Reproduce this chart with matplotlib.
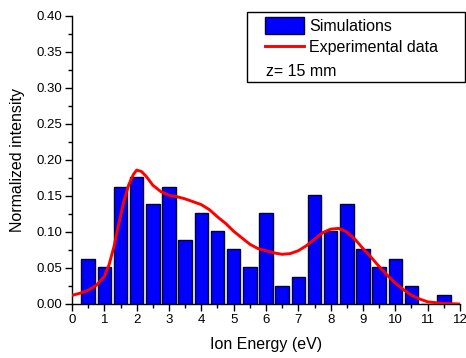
import matplotlib
matplotlib.use("Agg")
import matplotlib.pyplot as plt
from matplotlib.patches import Rectangle
from matplotlib.ticker import MultipleLocator, FormatStrFormatter

plt.rcParams['font.family'] = ['Liberation Sans', 'DejaVu Sans']

# simulated ion energy histogram
sim_energy = [0.5, 1.0, 1.5, 2.0, 2.5, 3.0, 3.5, 4.0, 4.5, 5.0, 5.5, 6.0,
              6.5, 7.0, 7.5, 8.0, 8.5, 9.0, 9.5, 10.0, 10.5, 11.0, 11.5]
sim_intensity = [0.063, 0.051, 0.163, 0.177, 0.139, 0.163, 0.089, 0.127,
                 0.101, 0.076, 0.051, 0.127, 0.025, 0.038, 0.152, 0.101,
                 0.139, 0.076, 0.051, 0.063, 0.025, 0.0, 0.013]

# measured curve
exp_energy = [0.0, 0.25, 0.5, 0.75, 1.0, 1.15, 1.3, 1.45, 1.6, 1.75, 1.9,
              2.0, 2.15, 2.3, 2.5, 2.75, 3.0, 3.25, 3.5, 3.75, 4.0, 4.25,
              4.5, 4.75, 5.0, 5.25, 5.5, 5.75, 6.0, 6.25, 6.5, 6.75, 7.0,
              7.25, 7.5, 7.75, 8.0, 8.25, 8.5, 8.75, 9.0, 9.25, 9.5, 9.75,
              10.0, 10.25, 10.5, 10.75, 11.0, 11.5, 12.0]
exp_intensity = [0.012, 0.015, 0.019, 0.026, 0.038, 0.055, 0.080, 0.112,
                 0.142, 0.165, 0.180, 0.186, 0.184, 0.177, 0.165, 0.156,
                 0.151, 0.149, 0.146, 0.142, 0.138, 0.131, 0.121, 0.112,
                 0.101, 0.092, 0.083, 0.077, 0.074, 0.071, 0.069, 0.070,
                 0.074, 0.081, 0.090, 0.099, 0.104, 0.105, 0.100, 0.090,
                 0.077, 0.065, 0.052, 0.040, 0.029, 0.020, 0.012, 0.007,
                 0.003, 0.0007, 0.0]

fig = plt.figure(figsize=(4.66, 3.58), dpi=100)
W, H = 466, 358
ax = fig.add_axes([72 / W, 1 - 304 / H, (460 - 72) / W, (304 - 16) / H])

bars = ax.bar(sim_energy, sim_intensity, width=0.42, color='#0000ff',
              edgecolor='#000033', linewidth=1.0, label='Simulations')
line, = ax.plot(exp_energy, exp_intensity, color='#ff0000', lw=2.1,
                label='Experimental data', zorder=3, solid_joinstyle='round')

ax.set_xlim(0, 12)
ax.set_ylim(0, 0.40)
ax.xaxis.set_major_locator(MultipleLocator(1))
ax.xaxis.set_minor_locator(MultipleLocator(0.5))
ax.yaxis.set_major_locator(MultipleLocator(0.05))
ax.yaxis.set_minor_locator(MultipleLocator(0.025))
ax.yaxis.set_major_formatter(FormatStrFormatter('%.2f'))
ax.tick_params(which='major', direction='out', length=5, width=1,
               labelsize=9.5, pad=2)
ax.tick_params(which='minor', direction='out', length=3, width=1)
for s in ['top', 'right']:
    ax.spines[s].set_visible(False)
for s in ['left', 'bottom']:
    ax.spines[s].set_linewidth(1)

ax.set_xlabel('Ion Energy (eV)', fontsize=11.5, labelpad=8)
ax.set_ylabel('Normalized intensity', fontsize=11.5, labelpad=8)

# legend box
fig.patches.append(Rectangle((247 / W, 1 - 82 / H), (465 - 247) / W, 70 / H,
                             transform=fig.transFigure, fill=False,
                             edgecolor='black', linewidth=1))
fig.legend(handles=[bars, line], loc='upper left',
           bbox_to_anchor=(262 / W, 1 - 14 / H), frameon=False,
           fontsize=11.5, handlelength=2.45, handleheight=1.2,
           handletextpad=0.3, labelspacing=0.32, borderpad=0.2,
           borderaxespad=0)
fig.text(266 / W, 1 - 76 / H, 'z= 15 mm', fontsize=11.5, va='baseline')

fig.savefig('out.png', dpi=100)
